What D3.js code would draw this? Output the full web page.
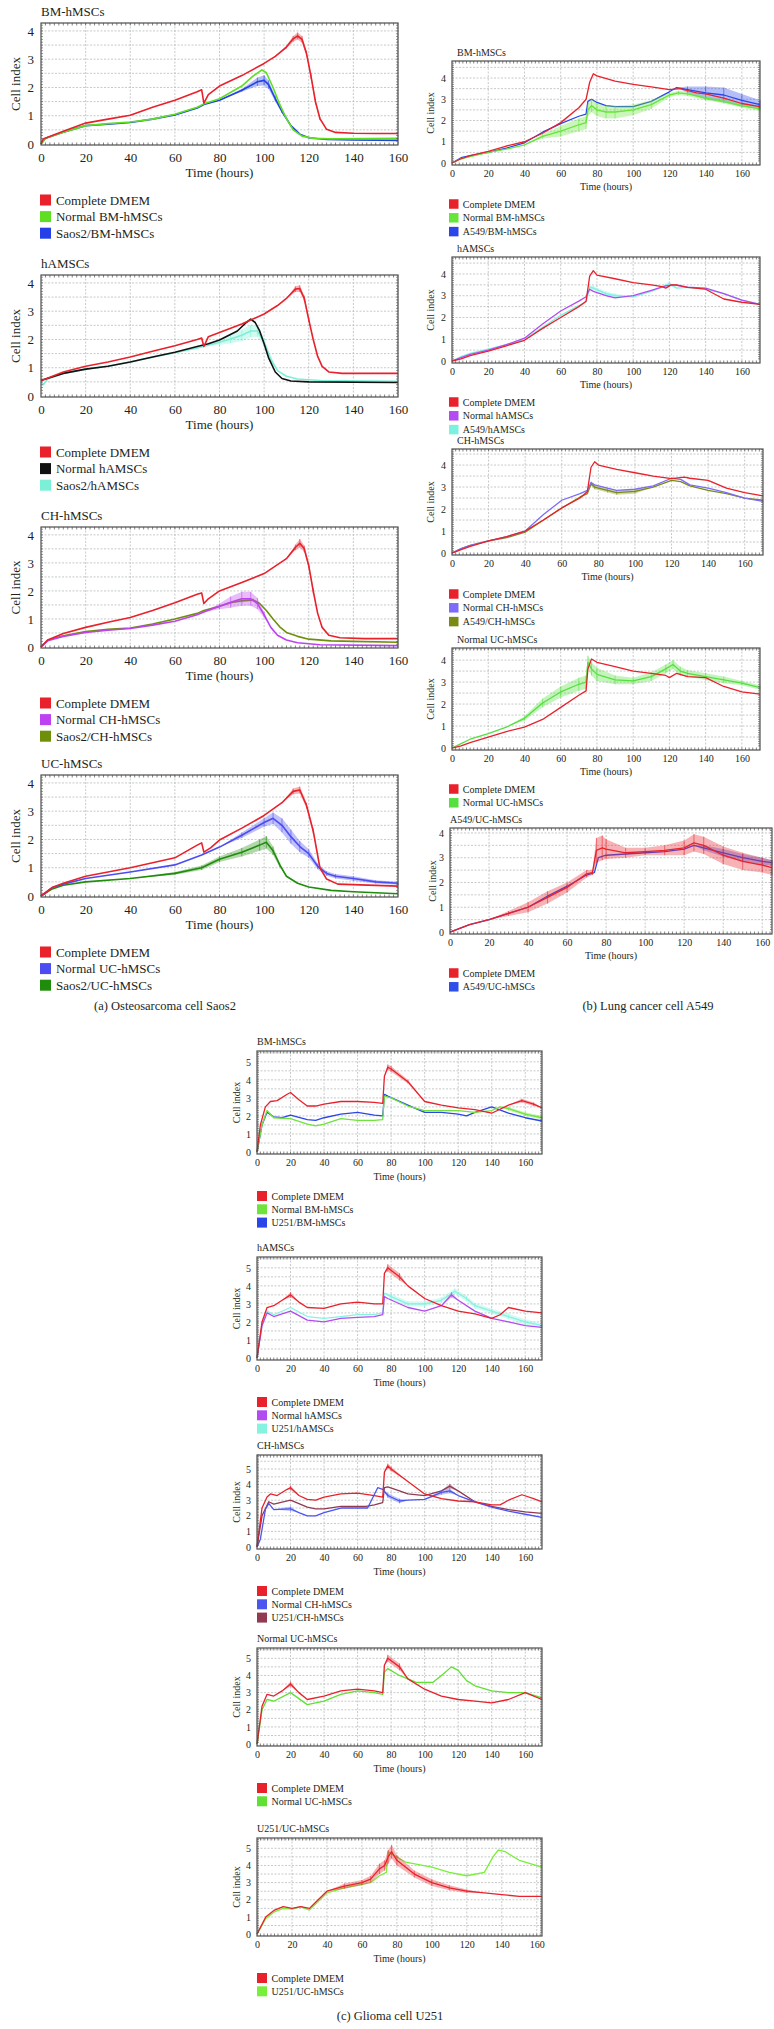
<!DOCTYPE html>
<html lang="en">
<head>
<meta charset="utf-8">
<title>Cell index (xCELLigence) curves</title>
<style>
 body { margin: 0; background: #fff; }
 svg text { font-family: "Liberation Serif", "DejaVu Serif", serif; fill: #231f20; }
</style>
</head>
<body>
<div id="fig"></div>
<script src="https://d3js.org/d3.v7.min.js"></script>
<script>
// each point: [time (h), cell index, error]  (error optional)

// ---- (a) Saos2 ----
var aBM_dmem = [[0,0],[1,0.18],[5,0.3],[10,0.45],[20,0.74],[30,0.88],[40,1.02],[50,1.3],[60,1.55],[70,1.85],[72,1.92],[73,1.45],[75,1.75],[80,2.05],[90,2.42],[100,2.85],[105,3.1],[110,3.43,0.05],[113,3.72,0.1],[115,3.82,0.12],[117,3.7,0.12],[119,3.2,0.1],[121,2.4,0.1],[123,1.5,0.1],[125,0.9,0.05],[128,0.52],[132,0.41],[140,0.38],[150,0.37],[160,0.37]];
var aBM_normal = [[0,0],[2,0.2],[10,0.42],[20,0.65],[30,0.72],[40,0.78],[50,0.88],[60,1.05],[70,1.3],[73,1.42],[80,1.6],[90,2.05],[95,2.4],[99,2.62],[101,2.52],[104,2.0],[107,1.4],[110,0.9],[113,0.5],[117,0.28],[122,0.2],[130,0.18],[160,0.2]];
var aBM_saos2 = [[0,0],[2,0.2],[10,0.42],[20,0.65],[30,0.7],[40,0.76],[50,0.88],[60,1.03],[70,1.27],[73,1.4],[80,1.55],[90,1.9,0.05],[97,2.2,0.15],[100,2.25,0.18],[102,2.1,0.15],[105,1.6,0.1],[108,1.15,0.05],[112,0.65],[116,0.35],[120,0.22],[128,0.16],[140,0.14],[160,0.13]];

var aHA_dmem = [[0,0.55],[2,0.6],[10,0.85],[20,1.05],[30,1.2],[40,1.38],[50,1.58],[60,1.78],[70,2.0],[72,2.05],[73,1.75],[75,2.1],[80,2.25],[90,2.55],[100,2.9],[106,3.2],[110,3.45],[114,3.78,0.1],[116,3.8,0.12],[118,3.45,0.1],[120,2.7,0.08],[122,2.0],[124,1.4],[126,1.05],[129,0.85],[135,0.8],[160,0.8]];
var aHA_normal = [[0,0.55],[2,0.6],[10,0.8],[20,0.95],[30,1.05],[40,1.2],[50,1.38],[60,1.55],[70,1.75],[75,1.85],[80,1.98],[88,2.3],[92,2.6],[94,2.72],[96,2.6],[98,2.3],[100,1.85],[102,1.35],[105,0.85],[108,0.62],[112,0.53],[120,0.5],[160,0.48]];
var aHA_saos2 = [[0,0.5],[1,0.4],[3,0.6],[10,0.8],[20,0.95],[30,1.05],[40,1.2],[50,1.37],[60,1.53],[70,1.7],[75,1.8],[80,1.9,0.1],[85,2.02,0.15],[90,2.15,0.2],[94,2.3,0.22],[97,2.3,0.2],[100,1.9,0.15],[103,1.3,0.1],[106,0.9],[110,0.7],[115,0.6],[125,0.55],[160,0.52]];

var aCH_dmem = [[0,0],[3,0.25],[10,0.48],[20,0.7],[30,0.88],[40,1.05],[50,1.3],[60,1.58],[70,1.88],[72,1.93],[73,1.55],[75,1.72],[80,2.0],[90,2.3],[100,2.62],[110,3.15],[114,3.55,0.1],[116,3.7,0.15],[118,3.5,0.12],[120,2.9,0.1],[122,2.0,0.1],[124,1.2],[126,0.7],[129,0.42],[134,0.33],[145,0.3],[160,0.3]];
var aCH_normal = [[0,0],[3,0.22],[10,0.38],[20,0.52],[30,0.6],[40,0.66],[50,0.78],[60,0.92],[70,1.15],[73,1.25],[80,1.45,0.1],[85,1.6,0.2],[90,1.72,0.25],[94,1.72,0.25],[97,1.55,0.2],[100,1.15,0.1],[103,0.7],[106,0.42],[110,0.25],[115,0.15],[125,0.08],[160,0.05]];
var aCH_saos2 = [[0,0],[3,0.25],[10,0.4],[20,0.55],[30,0.63],[40,0.68],[50,0.82],[60,1.0],[70,1.2],[73,1.3],[80,1.45],[85,1.58],[90,1.65,0.05],[95,1.68,0.05],[98,1.55],[101,1.3],[104,1.0],[107,0.72],[110,0.52],[115,0.38],[120,0.28],[130,0.22],[140,0.2],[160,0.17]];

var aUC_dmem = [[0,0],[5,0.3],[10,0.45],[20,0.7],[40,1.0],[60,1.35],[70,1.8],[72,1.88],[73,1.55],[76,1.7],[80,1.98],[90,2.4],[100,2.85],[108,3.3],[113,3.7,0.1],[116,3.75,0.12],[119,3.2,0.1],[122,2.3,0.1],[125,1.0],[128,0.6],[133,0.42],[160,0.35]];
var aUC_normal = [[0,0],[5,0.3],[10,0.42],[20,0.62],[40,0.85],[60,1.1],[72,1.45],[80,1.73],[90,2.15,0.1],[100,2.6,0.15],[104,2.75,0.2],[108,2.5,0.25],[112,2.1,0.25],[116,1.75,0.2],[120,1.5,0.15],[124,1.05,0.1],[128,0.8,0.08],[132,0.7,0.08],[140,0.62,0.08],[150,0.5,0.06],[160,0.45,0.05]];
var aUC_saos2 = [[0,0],[5,0.25],[10,0.38],[20,0.5],[40,0.62],[60,0.8,0.05],[72,1.0,0.08],[80,1.3,0.1],[90,1.55,0.15],[98,1.8,0.2],[101,1.9,0.22],[104,1.6,0.15],[107,1.1,0.08],[110,0.7],[115,0.45],[120,0.32],[130,0.2],[140,0.15],[160,0.08]];

// ---- (b) A549 ----
var bBM_dmem = [[0,0],[5,0.2],[10,0.35],[20,0.55],[30,0.8],[40,1.0],[50,1.4],[60,1.9],[70,2.6],[74,3.0],[76,3.8],[78,4.2],[80,4.1],[90,3.85],[100,3.7],[110,3.58],[120,3.45],[126,3.5],[135,3.3],[140,3.25],[150,3.05],[160,2.8],[170,2.65]];
var bBM_normal = [[0,0],[5,0.2],[10,0.3],[20,0.5],[30,0.65],[40,0.85],[50,1.25,0.1],[60,1.5,0.25],[70,1.8,0.3],[74,1.9,0.3],[75,2.5,0.3],[77,2.7,0.3],[80,2.5,0.3],[85,2.4,0.3],[90,2.4,0.3],[100,2.5,0.25],[110,2.75,0.2],[120,3.2,0.1],[125,3.3,0.1],[130,3.25,0.1],[140,3.05,0.1],[150,2.9,0.1],[160,2.7,0.1],[170,2.55,0.1]];
var bBM_a549 = [[0,0],[5,0.25],[10,0.35],[20,0.5],[30,0.7],[40,0.95],[50,1.45],[60,1.85],[70,2.2],[74,2.3],[75,2.9],[77,3.0],[80,2.85],[85,2.7],[90,2.65],[100,2.65],[110,2.9],[120,3.35],[124,3.55],[130,3.45,0.15],[140,3.3,0.3],[150,3.2,0.35],[160,2.95,0.3],[170,2.75,0.2]];

var bHA_dmem = [[0,0],[5,0.1],[10,0.25],[20,0.45],[30,0.7],[40,0.95],[50,1.5],[60,2.0],[70,2.5],[74,2.75],[76,3.9],[78,4.15],[80,3.95],[90,3.78],[100,3.6],[110,3.5],[116,3.42],[118,3.35],[121,3.5],[124,3.5],[130,3.38],[140,3.3],[150,2.85],[160,2.7],[170,2.6]];
var bHA_normal = [[0,0],[5,0.15],[10,0.3],[20,0.5],[30,0.75],[40,1.05],[50,1.7],[60,2.3],[70,2.75],[74,2.95],[76,3.3],[78,3.2],[85,3.0],[90,2.9],[100,3.0],[110,3.25],[118,3.45],[122,3.5],[130,3.4],[140,3.35],[150,3.1],[160,2.8],[170,2.6]];
var bHA_a549 = [[0,0],[5,0.2],[10,0.35],[20,0.55],[30,0.75],[40,1.0],[50,1.55],[60,2.1],[70,2.55],[74,2.7],[76,3.4,0.1],[78,3.35,0.1],[85,3.1,0.1],[90,3.0,0.1],[100,2.95],[110,3.2],[120,3.55,0.1],[124,3.35],[130,3.38],[140,3.3],[150,3.1],[160,2.8],[170,2.6]];

var bCH_dmem = [[0,0],[5,0.15],[10,0.3],[20,0.55],[30,0.75],[40,1.0],[50,1.5],[60,2.05],[70,2.5],[74,2.8],[76,3.9],[78,4.15],[80,4.0],[90,3.8],[100,3.65],[110,3.5],[120,3.38],[127,3.45],[130,3.4],[140,3.3],[150,2.95],[160,2.75],[170,2.6]];
var bCH_normal = [[0,0],[5,0.2],[10,0.35],[20,0.55],[30,0.75],[40,1.0],[50,1.75],[60,2.4],[70,2.7],[74,2.85],[76,3.2],[78,3.1],[85,2.95],[90,2.85],[100,2.9],[110,3.05],[120,3.4],[125,3.35],[130,3.1],[140,2.95],[150,2.75],[160,2.5],[170,2.35]];
var bCH_a549 = [[0,0],[5,0.2],[10,0.35],[20,0.55],[30,0.7],[40,0.95],[50,1.5],[60,2.05],[70,2.55],[74,2.7],[76,3.15,0.1],[78,3.0,0.1],[85,2.85,0.1],[90,2.75,0.1],[100,2.8,0.1],[110,3.0],[120,3.3],[125,3.25],[130,3.05],[140,2.85],[150,2.7],[160,2.5],[170,2.4]];

var bUC_dmem = [[0,0],[5,0.1],[10,0.25],[20,0.5],[30,0.75],[40,0.95],[50,1.3],[60,1.85],[70,2.4],[74,2.6],[75,3.6],[77,4.05],[80,3.9],[90,3.7],[100,3.5],[110,3.4],[118,3.3],[120,3.2],[124,3.4],[130,3.25],[140,3.2],[150,2.8],[160,2.55],[170,2.45]];
var bUC_normal = [[0,0],[5,0.2],[10,0.4],[20,0.65],[30,0.95],[40,1.35,0.1],[50,2.05,0.2],[60,2.55,0.25],[70,2.9,0.3],[74,3.0,0.3],[75,3.9,0.3],[77,3.6,0.3],[80,3.35,0.3],[90,3.1,0.2],[100,3.05,0.15],[110,3.25,0.2],[118,3.6,0.2],[122,3.8,0.2],[126,3.5,0.2],[130,3.4,0.15],[140,3.25,0.15],[150,3.1,0.15],[160,2.95,0.1],[170,2.75,0.1]];

var bUA_dmem = [[0,0],[10,0.3],[20,0.5],[30,0.75,0.1],[40,1.0,0.2],[50,1.4,0.25],[60,1.8,0.2],[70,2.35,0.15],[73,2.4,0.1],[75,3.3,0.5],[78,3.4,0.5],[80,3.35,0.4],[90,3.2,0.2],[100,3.25,0.15],[110,3.3,0.2],[120,3.4,0.3],[125,3.6,0.35],[130,3.5,0.35],[140,3.1,0.35],[150,2.85,0.35],[160,2.7,0.3],[165,2.6,0.3]];
var bUA_a549 = [[0,0],[10,0.3],[20,0.5],[30,0.75],[40,1.0],[50,1.45],[60,1.85],[70,2.3],[74,2.4],[76,3.0],[80,3.1],[90,3.15],[100,3.2],[110,3.25],[120,3.35],[125,3.5],[130,3.4,0.1],[140,3.2,0.15],[150,3.0,0.15],[160,2.85,0.15],[165,2.8,0.1]];

// ---- (c) U251 ----
var cBM_dmem = [[0,0],[2,1.5],[5,2.5],[8,2.8],[12,2.85],[18,3.2],[20,3.3],[25,2.9],[30,2.55],[35,2.55],[40,2.65],[50,2.8],[60,2.8],[70,2.75],[75,2.7],[76,4.2],[78,4.7,0.15],[80,4.6,0.15],[90,3.9,0.1],[100,2.8],[110,2.6],[120,2.45],[130,2.35],[140,2.15],[150,2.6],[158,2.85,0.1],[165,2.65,0.1],[170,2.45]];
var cBM_normal = [[0,0],[3,1.5],[6,2.3],[10,1.9],[20,1.85],[30,1.55],[35,1.45],[40,1.55],[50,1.85],[60,1.75],[70,1.75],[75,1.8],[76,3.1],[80,3.0],[90,2.55],[100,2.3],[120,2.3],[130,2.2],[140,2.3],[145,2.5],[150,2.4,0.1],[160,2.1,0.1],[170,1.9,0.1]];
var cBM_u251 = [[0,0],[3,1.5],[6,2.2],[10,1.95],[15,1.9],[20,2.05],[30,1.8],[35,1.75],[40,1.9],[50,2.1],[60,2.2],[70,2.05],[75,2.0],[76,3.2],[78,3.1],[90,2.6],[100,2.2],[110,2.2],[120,2.1],[125,2.0],[130,2.2],[140,2.5],[150,2.15],[160,1.9],[170,1.72]];

var cHA_dmem = [[0,0],[3,2.0],[6,2.8],[10,2.9],[15,3.2],[20,3.5,0.15],[25,3.1],[30,2.8],[40,2.75],[50,3.0],[60,3.1],[70,3.0],[75,3.0],[76,4.7],[78,5.0,0.2],[85,4.5,0.2],[90,4.0],[100,3.3],[110,2.9],[120,2.6],[130,2.45],[140,2.2],[145,2.4],[150,2.8],[160,2.6],[170,2.5]];
var cHA_normal = [[0,0],[3,1.8],[6,2.5],[10,2.3],[20,2.6],[30,2.1],[40,2.0],[50,2.2],[60,2.25],[70,2.3],[75,2.4],[76,3.4],[78,3.3],[90,2.8],[100,2.6],[110,2.9],[116,3.5,0.15],[120,3.2],[130,2.6],[140,2.2],[150,2.0],[160,1.8],[170,1.7]];
var cHA_u251 = [[0,0],[3,1.8],[6,2.6],[10,2.4],[20,2.8],[30,2.3],[40,2.2],[50,2.3],[60,2.4],[70,2.4],[75,2.5],[76,3.6],[80,3.4,0.15],[90,3.0,0.15],[100,3.0,0.15],[110,3.2,0.15],[118,3.7,0.15],[125,3.3,0.15],[130,2.9,0.15],[140,2.6,0.15],[150,2.3,0.15],[160,2.0,0.15],[170,1.8,0.1]];

var cCH_dmem = [[0,0],[3,2.5],[6,3.2],[8,3.4],[12,3.3],[18,3.7],[20,3.8,0.15],[25,3.3],[30,3.05],[35,3.0],[40,3.2],[50,3.4],[60,3.45],[70,3.3],[75,3.2],[76,4.8],[78,5.2,0.15],[80,5.0,0.15],[90,4.2],[100,3.4],[110,3.1],[120,2.95],[130,2.9],[140,2.7],[145,2.7],[150,3.0],[158,3.35],[165,3.1],[170,2.9]];
var cCH_normal = [[0,0],[2,0.5],[5,2.4],[7,2.8],[10,2.4],[20,2.45,0.15],[25,2.2],[30,2.0],[35,2.0],[40,2.2],[50,2.5],[60,2.5],[66,2.5],[72,3.8],[75,3.7],[78,3.3,0.15],[85,2.95,0.15],[90,3.0],[100,3.05],[110,3.5,0.15],[115,3.6,0.15],[120,3.3],[130,2.9],[140,2.55],[150,2.3],[160,2.1],[170,1.9]];
var cCH_u251 = [[0,0],[3,2.0],[7,2.9],[10,2.75],[20,3.0],[30,2.55],[35,2.45],[40,2.45],[50,2.6],[60,2.6],[65,2.6],[70,2.7],[75,2.85],[76,3.8],[78,3.85],[85,3.6],[90,3.4],[100,3.3],[110,3.6],[115,3.9,0.15],[120,3.6],[130,2.9],[140,2.6],[150,2.4],[160,2.25],[170,2.15]];

var cUC_dmem = [[0,0],[3,2.2],[6,2.9],[10,2.8],[15,3.1],[20,3.5,0.15],[25,3.0],[30,2.6],[40,2.8],[50,3.1],[60,3.2],[70,3.1],[75,3.0],[76,4.6],[78,5.0,0.2],[85,4.5,0.2],[90,3.8],[100,3.2],[110,2.8],[120,2.6],[130,2.5],[140,2.4],[150,2.6],[160,3.0],[170,2.6]];
var cUC_normal = [[0,0],[3,2.0],[6,2.6],[10,2.5],[20,3.0],[30,2.3],[40,2.5],[50,2.9],[60,3.1],[70,3.0],[75,2.9],[76,4.2],[78,4.4],[85,4.0],[95,3.6],[105,3.6],[110,4.0],[116,4.5],[120,4.3],[125,3.7],[130,3.4],[140,3.1],[150,3.0],[160,3.0],[170,2.7]];

var cUU_dmem = [[0,0],[5,1.0],[10,1.4],[15,1.6],[20,1.5],[25,1.6],[30,1.5],[35,2.0],[40,2.5],[50,2.8,0.15],[60,3.0,0.15],[65,3.2,0.2],[70,3.8,0.3],[73,4.0,0.3],[75,4.5,0.4],[77,4.8,0.4],[80,4.3,0.3],[90,3.5,0.2],[100,3.0,0.2],[110,2.7,0.15],[120,2.5,0.1],[130,2.4],[140,2.3],[150,2.2],[163,2.2]];
var cUU_u251 = [[0,0],[5,0.9],[10,1.3],[15,1.5],[20,1.45],[25,1.6],[30,1.4],[35,1.9],[40,2.4],[50,2.7],[60,2.9],[65,3.0],[70,3.4],[74,3.6],[75,4.8],[78,4.6],[85,4.2],[100,3.9],[110,3.6],[120,3.4],[130,3.6],[135,4.5],[138,4.9],[142,4.8],[150,4.3],[163,3.9]];

var RED = "#e8212b";

var W = 774, H = 2029;
var svg = d3.select("#fig").append("svg").attr("width", W).attr("height", H);

function drawPanel(p) {
  var g = svg.append("g");
  var x = d3.scaleLinear().domain([0, p.xmax]).range([p.left, p.right]);
  var y = d3.scaleLinear().domain(p.ydom).range([p.bottom, p.top]);
  var fs = p.fs;

  // grid
  var xt = d3.range(0, p.xmax + 0.1, 20);
  var yg = d3.range(0.5, p.ydom[1], 0.5);
  g.selectAll(".gx").data(xt.slice(1)).join("line")
    .attr("x1", d => x(d)).attr("x2", d => x(d))
    .attr("y1", p.top).attr("y2", p.bottom)
    .attr("stroke", "#b8bcbc").attr("stroke-width", 0.8).attr("stroke-dasharray", "2,1.5");
  g.selectAll(".gy").data(yg).join("line")
    .attr("x1", p.left).attr("x2", p.right)
    .attr("y1", d => y(d)).attr("y2", d => y(d))
    .attr("stroke", "#b8bcbc").attr("stroke-width", 0.8).attr("stroke-dasharray", "2,1.5");

  // series (last legend entry first so red sits on top)
  p.series.slice().reverse().forEach(function (s) {
    var pts = s.data.map(d => [d[0], d[1], d[2] || 0]);
    var area = d3.area().x(d => x(d[0])).y0(d => y(d[1] - d[2])).y1(d => y(d[1] + d[2]));
    g.append("path").attr("d", area(pts)).attr("fill", s.color).attr("fill-opacity", 0.35);
    pts.filter(d => d[2] > 0).forEach(function (d) {
      g.append("line").attr("x1", x(d[0])).attr("x2", x(d[0]))
        .attr("y1", y(d[1] - d[2])).attr("y2", y(d[1] + d[2]))
        .attr("stroke", s.color).attr("stroke-opacity", 0.7).attr("stroke-width", 0.8);
    });
    var line = d3.line().x(d => x(d[0])).y(d => y(d[1]));
    g.append("path").attr("d", line(pts)).attr("fill", "none")
      .attr("stroke", s.line || s.color).attr("stroke-width", p.lw).attr("stroke-linejoin", "round");
  });

  // frame with ruler ticks
  g.append("rect").attr("x", p.left).attr("y", p.top)
    .attr("width", p.right - p.left).attr("height", p.bottom - p.top)
    .attr("fill", "none").attr("stroke", "#4d4d4d").attr("stroke-width", 1.2);
  var mx = d3.range(2, p.xmax, 2);
  [p.top, p.bottom].forEach(function (yy, i) {
    g.selectAll(null).data(mx).join("line")
      .attr("x1", d => x(d)).attr("x2", d => x(d))
      .attr("y1", yy).attr("y2", i ? yy - 2.5 : yy + 2.5)
      .attr("stroke", "#4d4d4d").attr("stroke-width", 0.7);
  });
  var my = d3.range(0.1, p.ydom[1], 0.1);
  [p.left, p.right].forEach(function (xx, i) {
    g.selectAll(null).data(my).join("line")
      .attr("x1", xx).attr("x2", i ? xx - 2 : xx + 2)
      .attr("y1", d => y(d)).attr("y2", d => y(d))
      .attr("stroke", "#4d4d4d").attr("stroke-width", 0.6);
  });

  // axes
  var ax = g.append("g").attr("transform", "translate(0," + p.bottom + ")")
    .call(d3.axisBottom(x).tickValues(xt).tickSize(0).tickPadding(p.tp));
  var ay = g.append("g").attr("transform", "translate(" + p.left + ",0)")
    .call(d3.axisLeft(y).tickValues(d3.range(0, Math.floor(p.ydom[1]) + 1)).tickFormat(d3.format("d")).tickSize(0).tickPadding(p.lp));
  [ax, ay].forEach(function (a) {
    a.select(".domain").remove();
    a.selectAll("text").style("font-family", '"Liberation Serif", serif').style("font-size", fs + "px").attr("fill", "#231f20");
  });

  g.append("text").attr("x", p.titleX || p.left).attr("y", p.top - p.titleGap)
    .style("font-size", fs + "px").text(p.title);
  g.append("text").attr("x", (p.left + p.right) / 2).attr("y", p.bottom + p.xlab)
    .attr("text-anchor", "middle").style("font-size", fs + "px").text("Time (hours)");
  g.append("text").attr("transform", "translate(" + p.ylabX + "," + (p.top + p.bottom) / 2 + ") rotate(-90)")
    .attr("text-anchor", "middle").attr("dy", "0.35em").style("font-size", fs + "px").text("Cell index");

  // legend
  p.series.forEach(function (s, i) {
    var yy = p.bottom + p.leg + i * p.legStep;
    g.append("rect").attr("x", p.legX).attr("y", yy - p.sq / 2).attr("width", p.sq).attr("height", p.sq)
      .attr("fill", s.key || s.color);
    g.append("text").attr("x", p.legX + p.sq + p.sq * 0.45).attr("y", yy).attr("dy", "0.35em")
      .style("font-size", fs + "px").text(s.name);
  });
}

var A = { left: 41, right: 398, xmax: 160, ydom: [-0.035, 4.28], fs: 13, lw: 1.6, tp: 8, lp: 7,
          titleGap: 7, xlab: 32, ylabX: 15, legX: 40, sq: 11, leg: 55, legStep: 16.6 };
var B = { left: 452, right: 760, xmax: 170, fs: 10, lw: 1.3, tp: 5, lp: 6,
          titleGap: 5, titleX: 457, xlab: 25, ylabX: 430, legX: 449, sq: 9.5, leg: 39, legStep: 13.8 };
var C = { left: 257, right: 542, xmax: 170, fs: 10, lw: 1.3, tp: 5, lp: 6,
          titleGap: 6, xlab: 26, ylabX: 236, legX: 257, sq: 10, leg: 42, legStep: 13.3 };

function panel(base, extra) { drawPanel(Object.assign({}, base, extra)); }

// (a) Saos2
panel(A, { top: 23, bottom: 145, title: "BM-hMSCs", series: [
  { name: "Complete DMEM", color: RED, data: aBM_dmem },
  { name: "Normal BM-hMSCs", color: "#5fdf22", data: aBM_normal },
  { name: "Saos2/BM-hMSCs", color: "#2440e6", data: aBM_saos2 }] });
panel(A, { top: 275, bottom: 397, title: "hAMSCs", series: [
  { name: "Complete DMEM", color: RED, data: aHA_dmem },
  { name: "Normal hAMSCs", color: "#111111", data: aHA_normal },
  { name: "Saos2/hAMSCs", color: "#7cf0d6", data: aHA_saos2 }] });
panel(A, { top: 527, bottom: 648, title: "CH-hMSCs", series: [
  { name: "Complete DMEM", color: RED, data: aCH_dmem },
  { name: "Normal CH-hMSCs", color: "#bf42f2", data: aCH_normal },
  { name: "Saos2/CH-hMSCs", color: "#6f8f0a", data: aCH_saos2 }] });
panel(A, { top: 775, bottom: 897, title: "UC-hMSCs", series: [
  { name: "Complete DMEM", color: RED, data: aUC_dmem },
  { name: "Normal UC-hMSCs", color: "#4b4cf2", data: aUC_normal },
  { name: "Saos2/UC-hMSCs", color: "#1f8c0c", data: aUC_saos2 }] });

// (b) A549
panel(B, { top: 61, bottom: 165, ydom: [-0.094, 4.8], title: "BM-hMSCs", series: [
  { name: "Complete DMEM", color: RED, data: bBM_dmem },
  { name: "Normal BM-hMSCs", color: "#66e53a", data: bBM_normal },
  { name: "A549/BM-hMSCs", color: "#2a45e8", data: bBM_a549 }] });
panel(B, { top: 257, bottom: 363, ydom: [-0.092, 4.78], title: "hAMSCs", series: [
  { name: "Complete DMEM", color: RED, data: bHA_dmem },
  { name: "Normal hAMSCs", color: "#b24cf2", data: bHA_normal },
  { name: "A549/hAMSCs", color: "#7af2df", data: bHA_a549 }] });
panel(B, { top: 449, bottom: 555, ydom: [-0.09, 4.73], right: 763, title: "CH-hMSCs", series: [
  { name: "Complete DMEM", color: RED, data: bCH_dmem },
  { name: "Normal CH-hMSCs", color: "#7d6cf7", data: bCH_normal },
  { name: "A549/CH-hMSCs", color: "#7a8a14", data: bCH_a549 }] });
panel(B, { top: 648, bottom: 750, ydom: [-0.09, 4.55], title: "Normal UC-hMSCs", series: [
  { name: "Complete DMEM", color: RED, data: bUC_dmem },
  { name: "Normal UC-hMSCs", color: "#55e040", data: bUC_normal }] });
panel(B, { top: 828, bottom: 934, left: 450, right: 772, xmax: 165, ydom: [-0.08, 4.2], titleX: 450, ylabX: 432, title: "A549/UC-hMSCs", series: [
  { name: "Complete DMEM", color: RED, data: bUA_dmem },
  { name: "A549/UC-hMSCs", color: "#2f4fe8", data: bUA_a549 }] });

// (c) U251
panel(C, { top: 1051, bottom: 1154, ydom: [-0.11, 5.6], title: "BM-hMSCs", series: [
  { name: "Complete DMEM", color: RED, data: cBM_dmem },
  { name: "Normal BM-hMSCs", color: "#6de33b", data: cBM_normal },
  { name: "U251/BM-hMSCs", color: "#2a45e8", data: cBM_u251 }] });
panel(C, { top: 1257, bottom: 1360, ydom: [-0.11, 5.6], title: "hAMSCs", series: [
  { name: "Complete DMEM", color: RED, data: cHA_dmem },
  { name: "Normal hAMSCs", color: "#b24cf2", data: cHA_normal },
  { name: "U251/hAMSCs", color: "#86f2e0", data: cHA_u251 }] });
panel(C, { top: 1455, bottom: 1549, ydom: [-0.13, 5.9], title: "CH-hMSCs", series: [
  { name: "Complete DMEM", color: RED, data: cCH_dmem },
  { name: "Normal CH-hMSCs", color: "#4b55f0", data: cCH_normal },
  { name: "U251/CH-hMSCs", color: "#923a52", data: cCH_u251 }] });
panel(C, { top: 1648, bottom: 1746, ydom: [-0.11, 5.6], title: "Normal UC-hMSCs", series: [
  { name: "Complete DMEM", color: RED, data: cUC_dmem },
  { name: "Normal UC-hMSCs", color: "#5fe032", data: cUC_normal }] });
panel(C, { top: 1838, bottom: 1936, ydom: [-0.11, 5.6], xmax: 163, title: "U251/UC-hMSCs", series: [
  { name: "Complete DMEM", color: RED, data: cUU_dmem },
  { name: "U251/UC-hMSCs", color: "#78f03a", data: cUU_u251 }] });

// captions
svg.append("text").attr("x", 165).attr("y", 1010).attr("text-anchor", "middle")
  .style("font-size", "12.5px").text("(a) Osteosarcoma cell Saos2");
svg.append("text").attr("x", 648).attr("y", 1010).attr("text-anchor", "middle")
  .style("font-size", "12.5px").text("(b) Lung cancer cell A549");
svg.append("text").attr("x", 390).attr("y", 2020).attr("text-anchor", "middle")
  .style("font-size", "12.5px").text("(c) Glioma cell U251");
</script>
</body>
</html>
